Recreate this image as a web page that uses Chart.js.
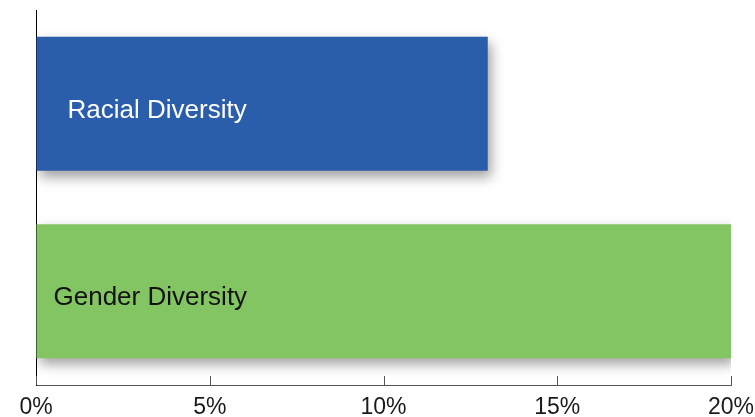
<!DOCTYPE html>
<html>
<head>
<meta charset="utf-8">
<script src="https://cdn.jsdelivr.net/npm/chart.js@4/dist/chart.umd.min.js"></script>
<style>
  html, body { margin: 0; padding: 0; background: #fff; }
  #wrap { width: 755px; height: 417px; }
</style>
</head>
<body>
<div id="wrap"><canvas id="diversityChart"></canvas></div>
<script>
// data
const categories = ['Racial Diversity', 'Gender Diversity'];
const shareValues = [13, 20];
const barColors = ['#2a5daa', '#84c563'];
const labelColors = ['#ffffff', '#111111'];
const xTicks = [0, 5, 10, 15, 20];

const FONT = '"Liberation Sans", Arial, Helvetica, sans-serif';

// soft drop shadow under the bars
const barShadow = {
  id: 'barShadow',
  beforeDatasetsDraw(chart) {
    const ctx = chart.ctx;
    ctx.save();
    ctx.shadowColor = 'rgba(0, 0, 0, 0.38)';
    ctx.shadowBlur = 12;
    ctx.shadowOffsetX = 3;
    ctx.shadowOffsetY = 6;
  },
  afterDatasetsDraw(chart) {
    chart.ctx.restore();
  }
};

// category names written inside the bars, plus inward tick marks
const insideLabels = {
  id: 'insideLabels',
  afterDatasetsDraw(chart) {
    const ctx = chart.ctx;
    const meta = chart.getDatasetMeta(0);
    const offsets = [31, 17];
    ctx.save();
    ctx.font = '26px ' + FONT;
    ctx.textBaseline = 'middle';
    meta.data.forEach((bar, i) => {
      ctx.fillStyle = labelColors[i];
      ctx.fillText(categories[i], bar.base + offsets[i], bar.y + 7);
    });

    const x = chart.scales.x;
    const bottom = chart.chartArea.bottom;
    ctx.strokeStyle = '#555';
    ctx.lineWidth = 1;
    xTicks.forEach(v => {
      const px = Math.round(x.getPixelForValue(v)) + 0.5;
      ctx.beginPath();
      ctx.moveTo(px, bottom - 9);
      ctx.lineTo(px, bottom);
      ctx.stroke();
    });
    ctx.restore();
  }
};

new Chart(document.getElementById('diversityChart'), {
  type: 'bar',
  data: {
    labels: categories,
    datasets: [{
      data: shareValues,
      backgroundColor: barColors,
      borderWidth: 0,
      categoryPercentage: 1,
      barPercentage: 0.715
    }]
  },
  options: {
    indexAxis: 'y',
    responsive: true,
    maintainAspectRatio: false,
    animation: false,
    layout: { padding: { top: 10, right: 24, left: 0, bottom: 0 } },
    plugins: {
      legend: { display: false },
      tooltip: { enabled: false }
    },
    scales: {
      x: {
        min: 0,
        max: 20,
        afterBuildTicks(scale) {
          scale.ticks = xTicks.map(v => ({ value: v }));
        },
        afterFit(scale) {
          scale.height = 32;
          scale.paddingLeft = 0;
          scale.paddingRight = 0;
        },
        grid: { display: true, drawOnChartArea: false, drawTicks: false },
        border: { display: true, color: '#555', width: 1 },
        ticks: {
          padding: 9,
          color: '#1a1a1a',
          font: { family: FONT, size: 23 },
          callback: v => v + '%'
        }
      },
      y: {
        afterFit(scale) { scale.width = 36; },
        grid: { display: false },
        border: { display: true, color: '#000', width: 1 },
        ticks: { display: false }
      }
    }
  },
  plugins: [barShadow, insideLabels]
});
</script>
</body>
</html>
